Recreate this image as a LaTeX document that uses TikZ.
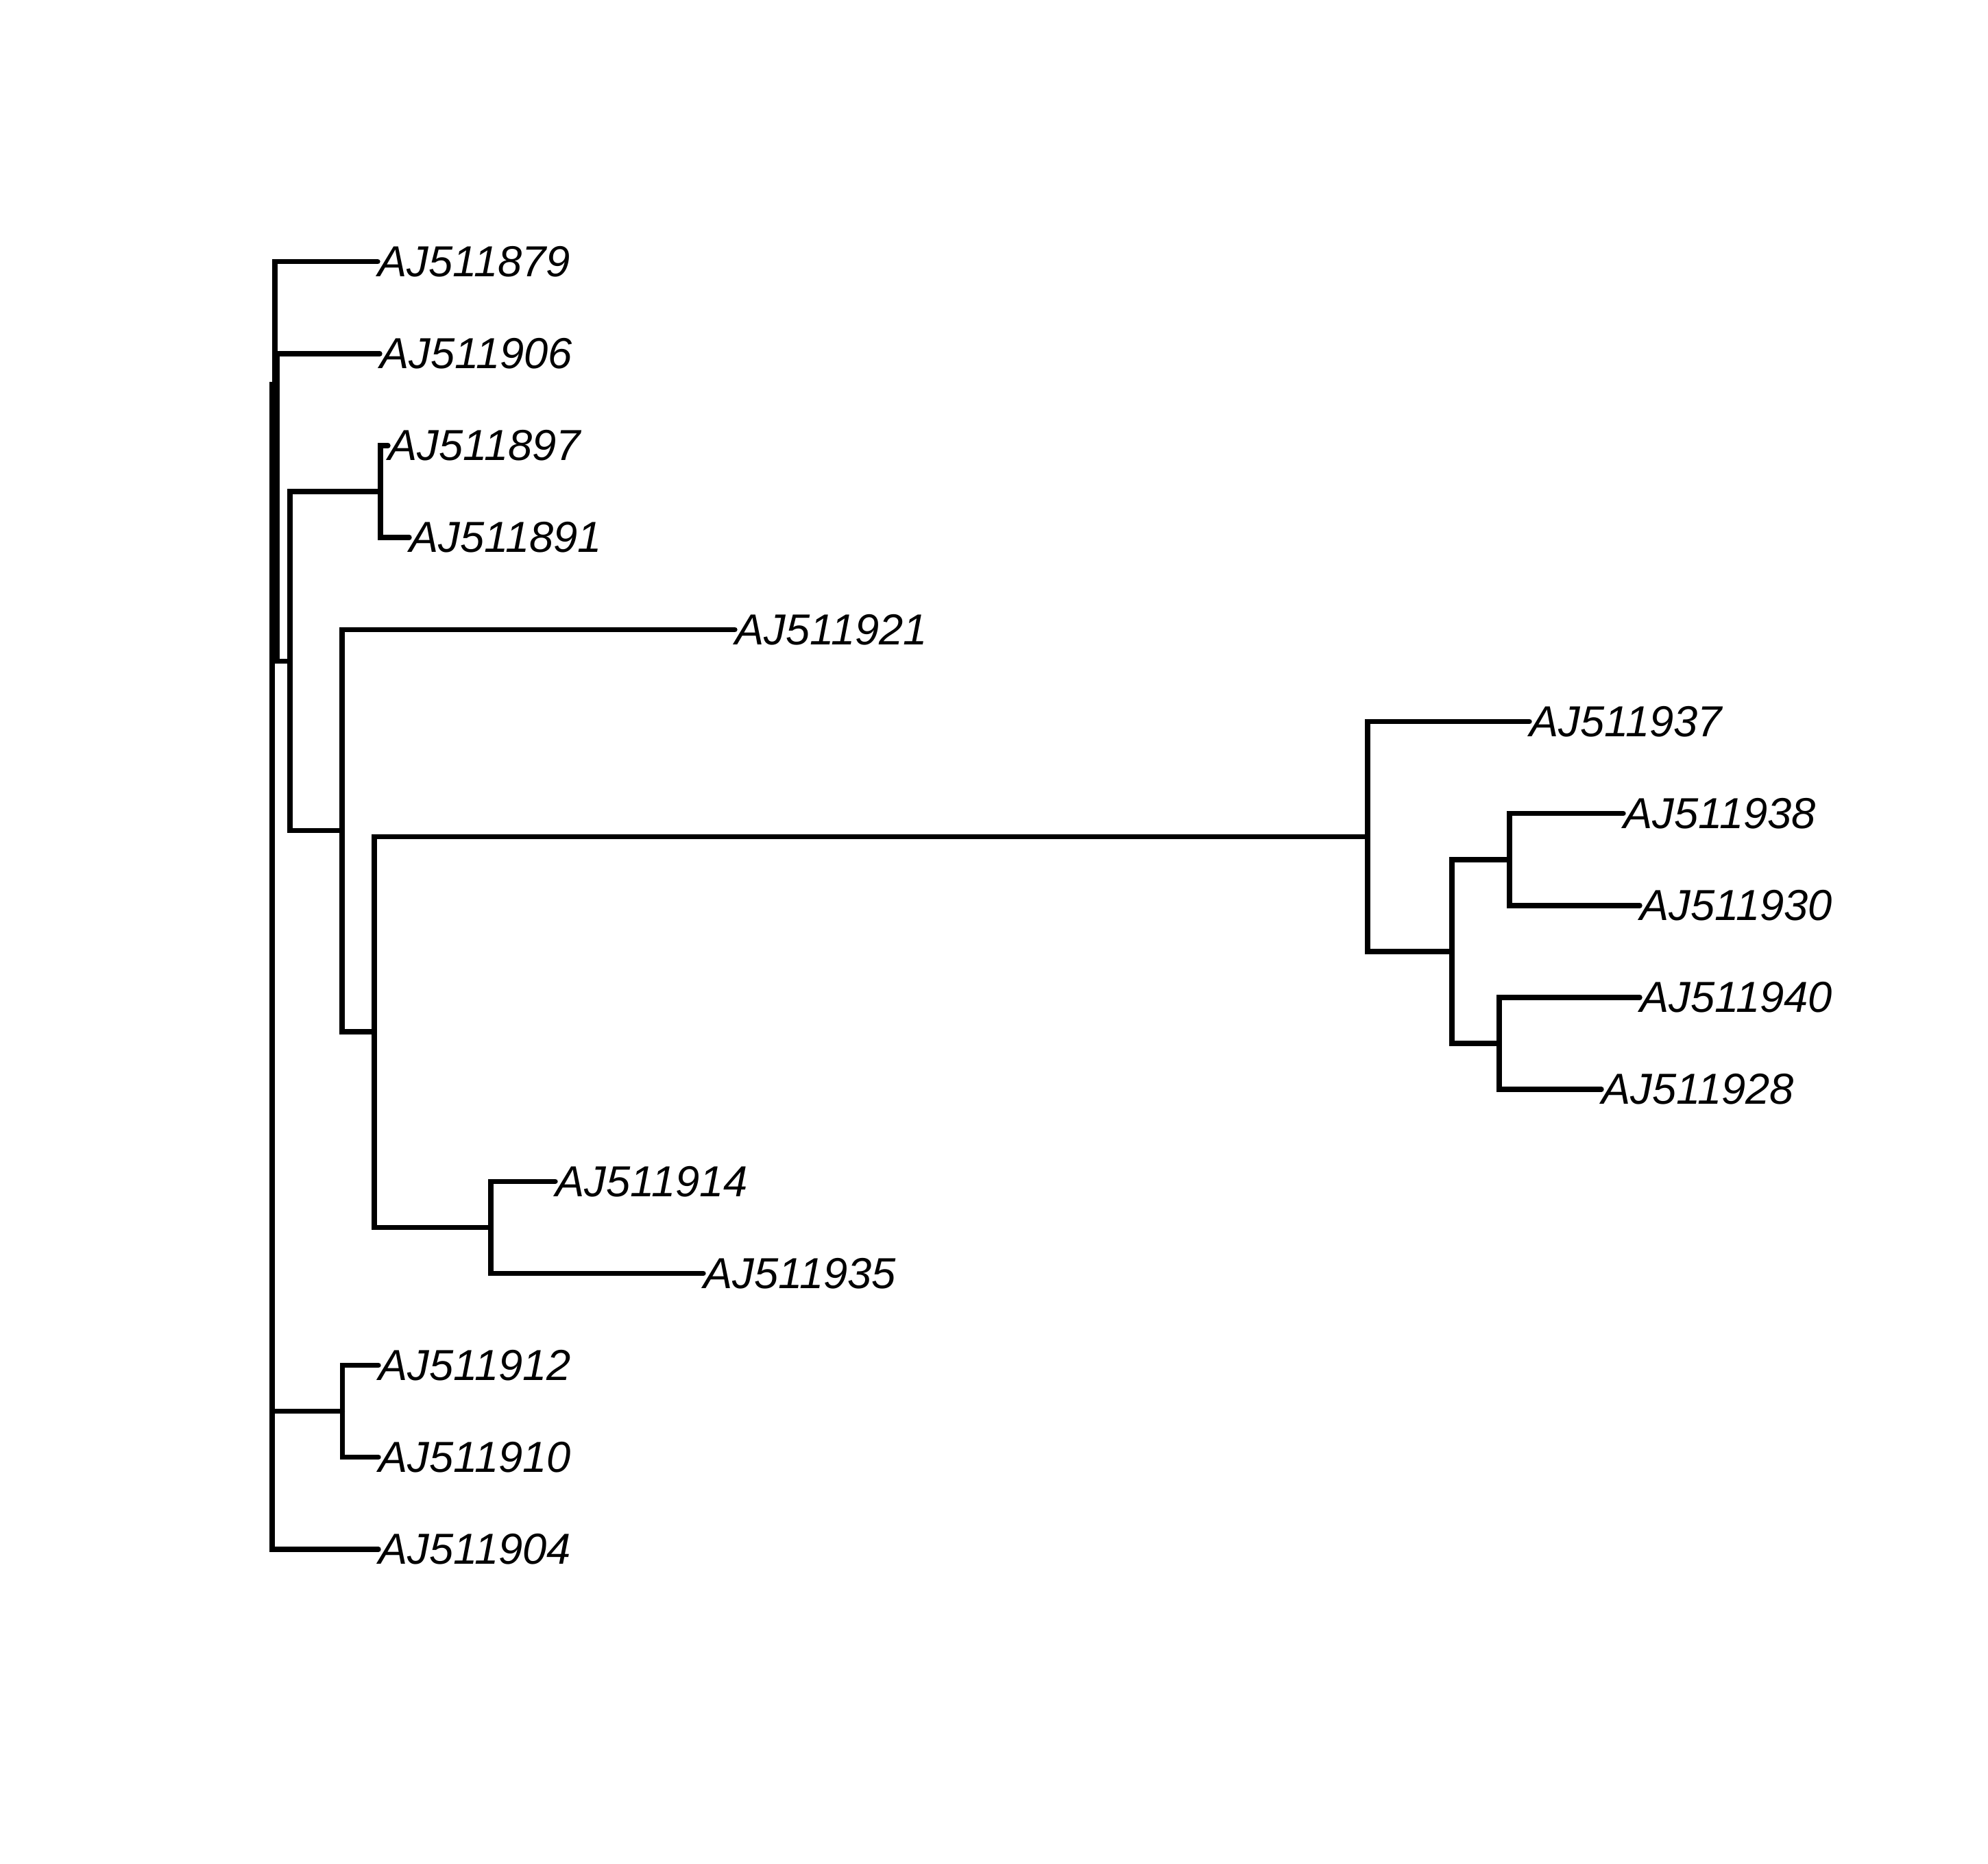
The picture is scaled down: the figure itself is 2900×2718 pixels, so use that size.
\documentclass[tikz,border=0pt]{standalone}
\usepackage{fontspec}
\setmainfont{Liberation Sans}
\begin{document}
\begin{tikzpicture}[x=0.01cm, y=-0.01cm,
  branch/.style={line width=2.1pt, line cap=round},
  tip/.style={anchor=west, inner sep=0pt, font=\fontsize{18pt}{21pt}\selectfont\itshape}]
  \useasboundingbox (0,0) rectangle (2900,2718);
  % internal nodes
  \coordinate (root) at (397,1410.5);
  \coordinate (n1) at (401,561);
  \coordinate (n2) at (404,740.2);
  \coordinate (n3) at (423,964.5);
  \coordinate (n4) at (555,717.1);
  \coordinate (n5) at (499,1211.7);
  \coordinate (n6) at (546,1505);
  \coordinate (n7) at (1995,1220.2);
  \coordinate (n8) at (2118,1387.9);
  \coordinate (n9) at (2202,1253.8);
  \coordinate (n10) at (2187,1522);
  \coordinate (n11) at (716,1790.4);
  \coordinate (n12) at (499.5,2058.7);
  % tips
  \foreach \n/\x/\i in {879/551/0, 906/554/1, 897/566/2, 891/597/3, 921/1072/4,
    937/2231/5, 938/2368/6, 930/2392/7, 940/2392/8, 928/2336/9,
    914/810/10, 935/1026/11, 912/552/12, 910/552/13, 904/552/14}
    \node[tip] (aj\n) at (\x,{381.7+134.16*\i}) {AJ511\n};
  % branches
  \foreach \p/\c in {root/n1, root/n12, n1/n2, n2/n3, n3/n4, n3/n5, n5/n6,
    n6/n7, n6/n11, n7/n8, n8/n9, n8/n10}
    \draw[branch] (\p) |- (\c);
  \foreach \p/\c in {root/904, n1/879, n2/906, n4/897, n4/891, n5/921, n7/937,
    n9/938, n9/930, n10/940, n10/928, n11/914, n11/935, n12/912, n12/910}
    \draw[branch] (\p) |- (aj\c.west);
\end{tikzpicture}
\end{document}
